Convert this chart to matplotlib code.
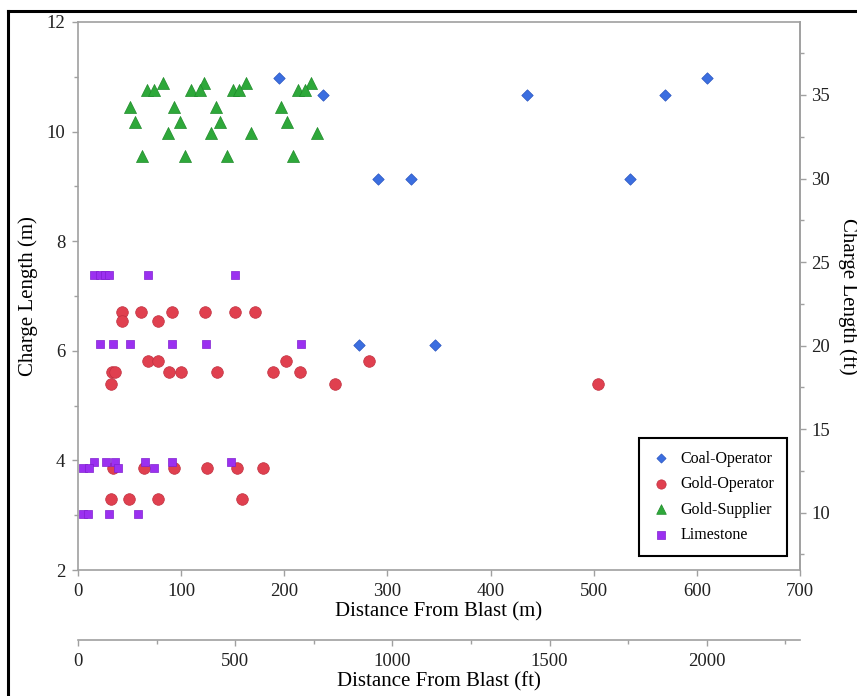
import matplotlib.pyplot as plt
from matplotlib.ticker import MultipleLocator, FixedLocator
from matplotlib.lines import Line2D

plt.rcParams['font.family'] = ['Liberation Serif', 'DejaVu Serif']

# dati (distanza in m, lunghezza di carica in m)
coal_x = [195, 238, 272, 291, 323, 346, 435, 535, 569, 610]
coal_y = [10.97, 10.67, 6.10, 9.14, 9.14, 6.10, 10.67, 9.14, 10.67, 10.97]

gold_op_x = [43, 61, 91, 123, 152, 172,
             43, 78,
             68, 78, 202, 282,
             33, 36, 88, 100, 135, 189, 215,
             32, 249, 504,
             34, 64, 93, 125, 154, 179,
             32, 49, 78, 159]
gold_op_y = [6.70] * 6 + [6.54] * 2 + [5.81] * 4 + [5.61] * 7 + [5.39] * 3 + [3.86] * 6 + [3.29] * 4

gold_sup_x = [82, 122, 163, 226,
              67, 74, 110, 118, 150, 156, 213, 220,
              50, 93, 134, 197,
              55, 99, 138, 203,
              87, 129, 168, 232,
              62, 104, 144, 208]
gold_sup_y = [10.88] * 4 + [10.76] * 8 + [10.45] * 4 + [10.17] * 4 + [9.97] * 4 + [9.56] * 4

lime_x = [16, 21, 26, 30, 68, 152,
          21, 34, 50, 91, 124, 216,
          16, 27, 36, 65, 91, 148,
          5, 11, 39, 74,
          5, 10, 30, 58]
lime_y = [7.38] * 6 + [6.12] * 6 + [3.98] * 6 + [3.87] * 4 + [3.03] * 4

# tacche degli assi in piedi
ft_y_major = [10, 15, 20, 25, 30, 35]
ft_y_minor = [7.5, 12.5, 17.5, 22.5, 27.5, 32.5, 37.5]
ft_x_major = [0, 500, 1000, 1500, 2000]
ft_x_minor = [250, 750, 1250, 1750, 2250]

m2ft = lambda m: m / 0.3048
ft2m = lambda f: f * 0.3048

grigio = '#a0a0a0'

fig = plt.figure(figsize=(8.57, 6.96), dpi=100)
ax = fig.add_axes([0.091, 0.181, 0.8425, 0.7874])

ax.scatter(coal_x, coal_y, marker='D', s=34, color='#3b6ee0', edgecolors='#2a55c0',
           linewidths=0.5, label='Coal-Operator', zorder=3)
ax.scatter(gold_op_x, gold_op_y, marker='o', s=70, color='#e0404f', edgecolors='#c03040',
           linewidths=0.5, label='Gold-Operator', zorder=3)
ax.scatter(gold_sup_x, gold_sup_y, marker='^', s=75, color='#2ea83a', edgecolors='#1f8a2a',
           linewidths=0.5, label='Gold-Supplier', zorder=3)
ax.scatter(lime_x, lime_y, marker='s', s=40, color='#9b30f0', edgecolors='#8020d0',
           linewidths=0.5, label='Limestone', zorder=3)

ax.set_xlim(0, 700)
ax.set_ylim(2, 12)
ax.xaxis.set_major_locator(MultipleLocator(100))
ax.yaxis.set_major_locator(MultipleLocator(2))
ax.yaxis.set_minor_locator(MultipleLocator(1))

for s in ax.spines.values():
    s.set_color(grigio)
    s.set_linewidth(1.2)

ax.tick_params(axis='both', which='major', direction='out', length=4, width=1,
               color=grigio, labelsize=13.5, labelcolor='#222222', pad=5)
ax.tick_params(axis='y', which='minor', direction='out', length=3, width=1, color=grigio)

ax.set_xlabel('Distance From Blast (m)', fontsize=15, labelpad=2)
ax.set_ylabel('Charge Length (m)', fontsize=15, labelpad=6)

# asse secondario a destra in piedi
ax_r = ax.secondary_yaxis('right', functions=(m2ft, ft2m))
ax_r.yaxis.set_major_locator(FixedLocator(ft_y_major))
ax_r.yaxis.set_minor_locator(FixedLocator(ft_y_minor))
ax_r.spines['right'].set_color(grigio)
ax_r.spines['right'].set_linewidth(1.2)
ax_r.tick_params(which='major', direction='out', length=4, width=1, color=grigio,
                 labelsize=13.5, labelcolor='#222222', pad=4)
ax_r.tick_params(which='minor', direction='out', length=3, width=1, color=grigio)
ax_r.set_ylabel('Charge Length (ft)', fontsize=15, rotation=270, labelpad=20)

# asse secondario in basso in piedi
ax_b = ax.secondary_xaxis(-0.128, functions=(m2ft, ft2m))
ax_b.xaxis.set_major_locator(FixedLocator(ft_x_major))
ax_b.xaxis.set_minor_locator(FixedLocator(ft_x_minor))
ax_b.spines['bottom'].set_color(grigio)
ax_b.spines['bottom'].set_linewidth(1.2)
ax_b.tick_params(which='major', direction='out', length=4, width=1, color=grigio,
                 labelsize=13.5, labelcolor='#222222', pad=5)
ax_b.tick_params(which='minor', direction='out', length=3, width=1, color=grigio)
ax_b.set_xlabel('Distance From Blast (ft)', fontsize=15, labelpad=2)

leg = ax.legend(loc='lower right', bbox_to_anchor=(0.982, 0.0255), borderaxespad=0,
                fontsize=11.5, fancybox=False, edgecolor='black', framealpha=1,
                handletextpad=0.6, labelspacing=0.6, borderpad=0.8, handlelength=1.2,
                scatterpoints=1, markerscale=0.8)
leg.get_frame().set_linewidth(1.5)

# cornice nera della figura (solo bordo sinistro e superiore visibili)
fig.add_artist(Line2D([8 / 857, 8 / 857], [0, 1 - 11 / 696], color='black', lw=2.2,
                      transform=fig.transFigure))
fig.add_artist(Line2D([8 / 857, 1], [1 - 11 / 696, 1 - 11 / 696], color='black', lw=2.2,
                      transform=fig.transFigure))

plt.savefig('out.png', dpi=100)
